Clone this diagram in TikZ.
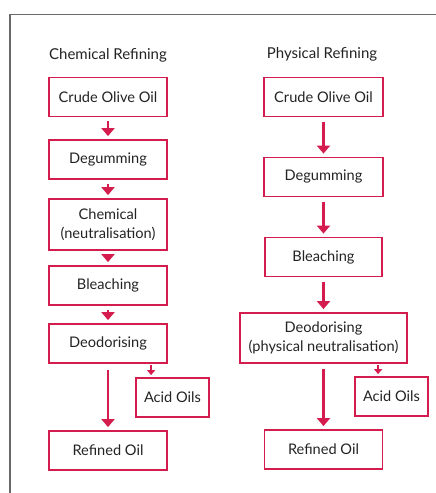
\documentclass[tikz,border=0pt]{standalone}
\usepackage{fontspec}
\setmainfont{Lato}
\usetikzlibrary{arrows.meta,positioning,calc}

\definecolor{oilred}{RGB}{213,28,78}
\definecolor{inkgray}{RGB}{35,35,35}
\definecolor{framegray}{RGB}{105,105,105}

\tikzset{
  stage/.style={draw=oilred, line width=1.8pt, text=inkgray, align=center,
    inner sep=0pt, minimum width=118pt, minimum height=39pt, font=\fontsize{14.6}{18.5}\selectfont},
  flow/.style={draw=oilred, line width=2.8pt, shorten <=4pt, shorten >=3pt,
    -{Triangle[width=13pt,length=8pt]}},
  sideflow/.style={draw=oilred, line width=2.4pt,
    -{Triangle[width=8pt,length=5pt]}},
  heading/.style={text=inkgray, font=\fontsize{15}{18}\selectfont}
}

\begin{document}
\begin{tikzpicture}[x=1pt,y=-1pt]
      \useasboundingbox (0,0) rectangle (436,493);

      \coordinate (F0) at (10,14.5);
      \coordinate (F1) at (436,14.5);
      \coordinate (F2) at (10,493);
      \draw[framegray, line width=1.2pt] (F1)--(F0)--(F2);

      \node[heading] at (108,55) (chem) {Chemical Refining};
      \node[heading] at (322,54) (phys) {Physical Refining};

      % chemical refining
      \node[stage] at (108, 97.0) (C1) {Crude Olive Oil};
      \node[stage] at (108,159.5) (C2) {Degumming};
      \node[stage, minimum height=51pt] at (108,224.5) (C3) {Chemical\\(neutralisation)};
      \node[stage] at (108,285.5) (C4) {Bleaching};
      \node[stage] at (108,343.5) (C5) {Deodorising};
      \node[stage, minimum width=73pt] at (172.5,397.5) (CA) {Acid Oils};
      \node[stage] at (108,450.5) (CR) {Refined Oil};

      % physical refining
      \node[stage, minimum width=119pt] at (323.5, 97.0) (P1) {Crude Olive Oil};
      \node[stage, minimum width=119pt] at (323.5,177.0) (P2) {Degumming};
      \node[stage, minimum width=117pt] at (323.5,257.0) (P3) {Bleaching};
      \node[stage, minimum width=167pt, minimum height=50pt] at (323.5,338.0) (P4) {Deodorising\\(physical neutralisation)};
      \node[stage, minimum width=73pt] at (391.5,396.5) (PA) {Acid Oils};
      \node[stage] at (323.5,449.5) (PR) {Refined Oil};

      \draw[flow] (C1)--(C2);
      \draw[flow] (C2)--(C3);
      \draw[flow] (C3)--(C4);
      \draw[flow] (C4)--(C5);
      \draw[flow, shorten <=6pt] (C5)--(CR);

      \draw[flow, shorten <=5pt] (P1)--(P2);
      \draw[flow, shorten <=5pt] (P2)--(P3);
      \draw[flow, shorten <=5pt] (P3)--(P4);
      \draw[flow, shorten <=5pt] (P4)--(PR);

      \coordinate (ca) at ([xshift=16pt,yshift=2pt]CA.north west);
      \coordinate (pa) at ([xshift=24pt,yshift=2pt]PA.north west);
      \draw[sideflow] ([yshift=-1pt]ca |- C5.south)--(ca);
      \draw[sideflow] ([yshift=-1pt]pa |- P4.south)--(pa);

    \end{tikzpicture}
\end{document}
